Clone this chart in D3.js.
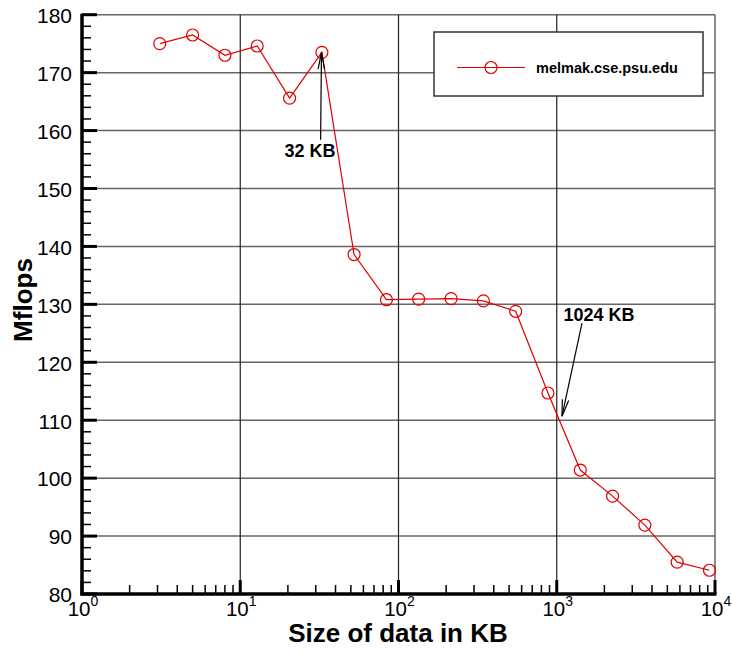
<!DOCTYPE html>
<html>
<head>
<meta charset="utf-8">
<script src="https://cdn.jsdelivr.net/npm/d3@7"></script>
<style>
  body { margin: 0; background: #fff; }
  svg { display: block; font-family: "Liberation Sans", Arial, sans-serif; }
</style>
</head>
<body>
<svg id="chart" width="732" height="654"></svg>
<script>
// data
const sizesKB = [3.1, 5.0, 8.0, 12.8, 20.5, 32.8, 52.4, 83.9, 134, 215, 344, 550, 880, 1408, 2253, 3604, 5767, 9227];
const mflops = [175.0, 176.5, 173.0, 174.6, 165.6, 173.5, 138.6, 130.8, 130.9, 131.0, 130.6, 128.8, 114.7, 101.4, 96.9, 91.9, 85.5, 84.1];
const seriesName = 'melmak.cse.psu.edu';
const yTicks = [80, 90, 100, 110, 120, 130, 140, 150, 160, 170, 180];
const xDecades = [0, 1, 2, 3, 4];
// label position, arrow start, arrow tip (in data units)
const notes = [
    { label: '32 KB', text: [27.6, 155.5], from: [32.2, 158.4], to: [32.6, 173.5] },
    { label: '1024 KB', text: [1849, 127.15], from: [1444, 126.75], to: [1079, 110.7] }
];

const svg = d3.select('#chart');
const plotL = 82, plotR = 715, plotT = 14.7, plotB = 594;

const x = d3.scaleLog().domain([1, 10000]).range([plotL, plotR]);
const y = d3.scaleLinear().domain([80, 180]).range([plotB, plotT]);

const g = svg.append('g');

// horizontal grid
g.selectAll('line.hgrid')
    .data(yTicks)
    .enter().append('line')
    .attr('class', 'hgrid')
    .attr('x1', plotL).attr('x2', plotR)
    .attr('y1', d => y(d)).attr('y2', d => y(d))
    .attr('stroke', '#666').attr('stroke-width', 1.5);

// vertical grid at decades
g.selectAll('line.vgrid')
    .data(xDecades.slice(1))
    .enter().append('line')
    .attr('class', 'vgrid')
    .attr('x1', d => x(Math.pow(10, d))).attr('x2', d => x(Math.pow(10, d)))
    .attr('y1', plotT).attr('y2', plotB)
    .attr('stroke', d => d === 4 ? '#666' : '#222')
    .attr('stroke-width', d => d === 4 ? 1.5 : 1.2);

// left axis ticks
const yMinor = d3.range(80, 181, 2).filter(v => v % 10 !== 0);
g.selectAll('line.yminor')
    .data(yMinor)
    .enter().append('line')
    .attr('x1', plotL).attr('x2', plotL + 9)
    .attr('y1', d => y(d)).attr('y2', d => y(d))
    .attr('stroke', '#000').attr('stroke-width', 1.5);
g.selectAll('line.ymajor')
    .data(yTicks)
    .enter().append('line')
    .attr('x1', plotL).attr('x2', plotL + 15)
    .attr('y1', d => y(d)).attr('y2', d => y(d))
    .attr('stroke', '#000').attr('stroke-width', 3);

g.selectAll('text.ylab')
    .data(yTicks)
    .enter().append('text')
    .attr('x', plotL - 10)
    .attr('y', d => y(d) + 8.3)
    .attr('text-anchor', 'end')
    .attr('font-size', 21)
    .text(d => d);

// bottom axis ticks
const xMinor = [];
xDecades.slice(0, -1).forEach(e => {
    for (let k = 2; k <= 9; k++) xMinor.push(k * Math.pow(10, e));
});
g.selectAll('line.xminor')
    .data(xMinor)
    .enter().append('line')
    .attr('x1', d => x(d)).attr('x2', d => x(d))
    .attr('y1', plotB).attr('y2', plotB - 9)
    .attr('stroke', '#000').attr('stroke-width', 1.5);
g.selectAll('line.xmajor')
    .data(xDecades)
    .enter().append('line')
    .attr('x1', d => x(Math.pow(10, d))).attr('x2', d => x(Math.pow(10, d)))
    .attr('y1', plotB).attr('y2', plotB - 14)
    .attr('stroke', '#000').attr('stroke-width', 3);

const xl = g.selectAll('text.xlab')
    .data(xDecades)
    .enter().append('text')
    .attr('x', d => x(Math.pow(10, d)) + 1)
    .attr('y', plotB + 22)
    .attr('text-anchor', 'middle')
    .attr('font-size', 20.5);
xl.append('tspan').text('10');
xl.append('tspan').attr('dy', -10).attr('font-size', 14).text(d => d);

// axis lines
g.append('line')
    .attr('x1', plotL).attr('x2', plotL).attr('y1', plotT - 1).attr('y2', plotB + 1.5)
    .attr('stroke', '#000').attr('stroke-width', 3.5);
g.append('line')
    .attr('x1', plotL - 1.5).attr('x2', plotR + 1.5).attr('y1', plotB).attr('y2', plotB)
    .attr('stroke', '#000').attr('stroke-width', 3.5);

// axis titles
g.append('text')
    .attr('x', 398).attr('y', 642)
    .attr('text-anchor', 'middle')
    .attr('font-size', 26).attr('font-weight', 'bold')
    .text('Size of data in KB');
g.append('text')
    .attr('transform', 'translate(32,300) rotate(-90)')
    .attr('text-anchor', 'middle')
    .attr('font-size', 26).attr('font-weight', 'bold')
    .text('Mflops');

// series
const red = '#e00000';
const line = d3.line().x(d => x(d[0])).y(d => y(d[1]));
const pts = sizesKB.map((s, i) => [s, mflops[i]]);
g.append('path')
    .attr('d', line(pts))
    .attr('fill', 'none').attr('stroke', red).attr('stroke-width', 1.2);
g.selectAll('circle.pt')
    .data(pts)
    .enter().append('circle')
    .attr('cx', d => x(d[0])).attr('cy', d => y(d[1]))
    .attr('r', 6)
    .attr('fill', 'none').attr('stroke', red).attr('stroke-width', 1.2);

// annotations
notes.forEach(n => {
    const sx = x(n.from[0]), sy = y(n.from[1]);
    const ax = x(n.to[0]), ay = y(n.to[1]);
    g.append('text')
        .attr('x', x(n.text[0])).attr('y', y(n.text[1]))
        .attr('text-anchor', 'middle')
        .attr('font-size', 18).attr('font-weight', 'bold')
        .text(n.label);
    g.append('line')
        .attr('x1', sx).attr('y1', sy).attr('x2', ax).attr('y2', ay)
        .attr('stroke', '#000').attr('stroke-width', 1.2);
    const ang = Math.atan2(ay - sy, ax - sx);
    const hl = 17, spread = 0.19;
    const p1 = [ax - hl * Math.cos(ang - spread), ay - hl * Math.sin(ang - spread)];
    const p2 = [ax - hl * Math.cos(ang + spread), ay - hl * Math.sin(ang + spread)];
    g.append('path')
        .attr('d', `M${p1[0]},${p1[1]}L${ax},${ay}L${p2[0]},${p2[1]}`)
        .attr('fill', 'none').attr('stroke', '#000').attr('stroke-width', 1.2);
});

// legend
const lg = g.append('g').attr('transform', 'translate(434,32)');
lg.append('rect')
    .attr('width', 269).attr('height', 64)
    .attr('fill', '#fff').attr('stroke', '#333').attr('stroke-width', 1.5);
lg.append('line')
    .attr('x1', 23).attr('x2', 91).attr('y1', 35.5).attr('y2', 35.5)
    .attr('stroke', red).attr('stroke-width', 1.2);
lg.append('circle')
    .attr('cx', 57).attr('cy', 35.5).attr('r', 6)
    .attr('fill', 'none').attr('stroke', red).attr('stroke-width', 1.2);
lg.append('text')
    .attr('x', 102).attr('y', 41)
    .attr('font-size', 14.5).attr('font-weight', 'bold')
    .text(seriesName);
</script>
</body>
</html>
